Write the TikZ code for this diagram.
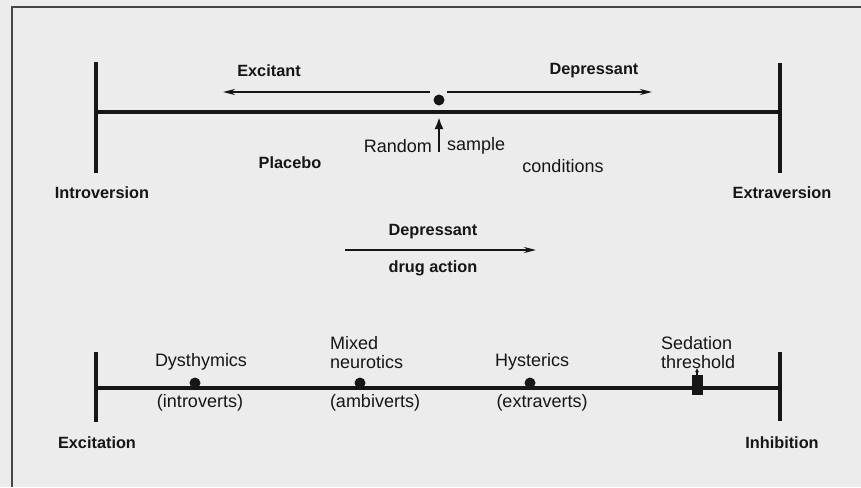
\documentclass[tikz,border=0pt]{standalone}
\usepackage{fontspec}
\setmainfont{Liberation Sans}
\usetikzlibrary{arrows.meta}
\definecolor{bg}{RGB}{236,236,236}
\definecolor{ink}{RGB}{22,22,22}
\definecolor{framec}{RGB}{70,70,70}
\tikzset{
  axis/.style={draw=ink, line width=3.4pt},
  tick/.style={draw=ink, line width=3.2pt},
  thin/.style={draw=ink, line width=2pt},
  lbl/.style={text=ink, inner sep=0pt, font=\fontsize{18}{21}\selectfont},
  hlbl/.style={lbl, font=\fontsize{16.3}{20}\selectfont\bfseries},
  dot/.style={circle, fill=ink, inner sep=0pt, minimum size=11pt},
  sq/.style={rectangle, fill=ink, inner sep=0pt, minimum width=11pt, minimum height=20pt},
  tipL/.style={-{Stealth[length=12pt,width=6pt]}},
}
\begin{document}
\begin{tikzpicture}[x=1pt,y=-1pt]
\useasboundingbox (0,0) rectangle (861,487);
\fill[bg] (0,0) rectangle (861,487);
% frame
\coordinate (f1) at (12,487); \coordinate (f2) at (12,7); \coordinate (f3) at (861,7);
\draw[framec, line width=1.8pt] (f1) -- (f2) -- (f3);

% ---------- upper diagram ----------
\coordinate (tl) at (96,112); \coordinate (tr) at (780,112);
\coordinate (tlt) at (96,62); \coordinate (tlb) at (96,173);
\coordinate (trt) at (780,63); \coordinate (trb) at (780,173);
\draw[axis] (tl) -- (tr);
\draw[tick] (tlt) -- (tlb);
\draw[tick] (trt) -- (trb);
\node[hlbl] (intro) at (102,193) {Introversion};
\node[hlbl] (extra) at (782,193) {Extraversion};

\node[dot] (rdot) at (439,100) {};
\coordinate (exs) at (430,92); \coordinate (exe) at (223,92);
\coordinate (dps) at (447,92); \coordinate (dpe) at (652,92);
\draw[thin, tipL] (exs) -- (exe);
\draw[thin, tipL] (dps) -- (dpe);
\node[hlbl] (excitant) at (269,71) {Excitant};
\node[hlbl] (depress1) at (594,71) {Depressant};

\coordinate (rsb) at (439,152); \coordinate (rst) at (439,117);
\draw[thin, line width=2.4pt, -{Latex[length=12pt,width=9pt]}] (rsb) -- (rst);
\node[lbl, anchor=east] (random) at (432,146) {Random};
\node[lbl, anchor=west] (sample) at (447,146) {sample};
\node[hlbl] (placebo) at (290,163) {Placebo};
\node[lbl] (cond) at (563,166) {conditions};

% depressant drug action
\coordinate (das) at (345,250); \coordinate (dae) at (536,250);
\draw[thin, tipL] (das) -- (dae);
\node[hlbl] (depress2) at (433,232) {Depressant};
\node[hlbl] (drug) at (433,268) {drug action};

% ---------- lower diagram ----------
\coordinate (bl) at (96,388); \coordinate (br) at (780,388);
\coordinate (blt) at (96,352); \coordinate (blb) at (96,422);
\coordinate (brt) at (780,352); \coordinate (brb) at (780,421);
\draw[axis] (bl) -- (br);
\draw[tick] (blt) -- (blb);
\draw[tick] (brt) -- (brb);
\node[hlbl] (excit) at (97,443) {Excitation};
\node[hlbl] (inhib) at (782,443) {Inhibition};

\node[dot] (dys) at (195,383) {};
\node[dot] (mix) at (360,383) {};
\node[dot] (hys) at (530,383) {};
\node[lbl] (dyst) at (201,362) {Dysthymics};
\node[lbl] (intv) at (200,403) {(introverts)};
\node[lbl, anchor=west] (mixed) at (330,343) {Mixed};
\node[lbl, anchor=west] (neur) at (330,362) {neurotics};
\node[lbl] (ambi) at (375,403) {(ambiverts)};
\node[lbl] (hyst) at (532,362) {Hysterics};
\node[lbl] (extv) at (542,403) {(extraverts)};

\node[sq] (sed) at (697,385) {};
\node[lbl, anchor=west] (sedt) at (661,343) {Sedation};
\node[lbl, anchor=west] (thr) at (661,362) {threshold};
\coordinate (sedtip) at (697,368);
\draw[thin, line width=1.6pt, -{Latex[length=4pt,width=4pt]}] (sed.north) -- (sedtip);
\end{tikzpicture}
\end{document}
